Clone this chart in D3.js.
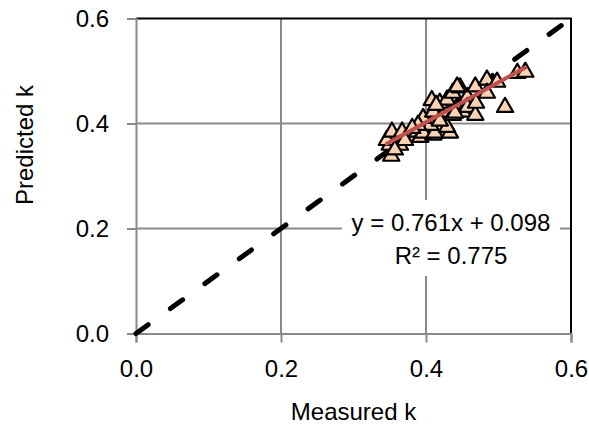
<!DOCTYPE html>
<html>
<head>
<meta charset="utf-8">
<script src="https://cdn.jsdelivr.net/npm/d3@7"></script>
<style>
  body { margin: 0; background: #fff; }
  svg text { font-family: "Liberation Sans", Arial, sans-serif; fill: #000; }
</style>
</head>
<body>
<svg id="chart" width="589" height="425"></svg>
<script>
// measured / predicted k
var measured = [0.352, 0.350, 0.346, 0.353, 0.367, 0.364, 0.378, 0.388, 0.392, 0.401,
                0.410, 0.396, 0.412, 0.433, 0.429, 0.406, 0.396, 0.410, 0.426, 0.437,
                0.451, 0.408, 0.419, 0.429, 0.414, 0.437, 0.447, 0.457, 0.457, 0.468,
                0.468, 0.484, 0.498, 0.484, 0.509, 0.526, 0.537, 0.443, 0.440, 0.389,
                0.419, 0.381, 0.371, 0.357, 0.469];
var predicted = [0.338, 0.359, 0.368, 0.384, 0.384, 0.359, 0.376, 0.384, 0.374, 0.384,
                 0.378, 0.382, 0.382, 0.382, 0.393, 0.397, 0.410, 0.422, 0.422, 0.416,
                 0.422, 0.444, 0.439, 0.445, 0.435, 0.458, 0.468, 0.450, 0.431, 0.416,
                 0.470, 0.483, 0.479, 0.458, 0.431, 0.496, 0.498, 0.470, 0.420, 0.397,
                 0.405, 0.391, 0.368, 0.350, 0.439];
var ticks = [0, 0.2, 0.4, 0.6];
var oneToOne = [0, 0.6];
var slope = 0.761, intercept = 0.098;
var eqLines = ["y = 0.761x + 0.098", "R\u00b2 = 0.775"];

(function () {
var svg = d3.select("#chart");
var pl = 136, pr = 571, pt = 18.5, pb = 333.5;
var fontSize = "24px";

var x = d3.scaleLinear().domain([0, 0.6]).range([pl, pr]);
var y = d3.scaleLinear().domain([0, 0.6]).range([pb, pt]);

// grid
var grid = svg.append("g");
grid.selectAll(".gx").data(ticks.slice(1, 3)).enter().append("line")
    .attr("x1", function (d) { return x(d); }).attr("x2", function (d) { return x(d); })
    .attr("y1", pt).attr("y2", pb)
    .attr("stroke", "#8a8a8a").attr("stroke-width", 2);
grid.selectAll(".gy").data(ticks.slice(1, 3)).enter().append("line")
    .attr("y1", function (d) { return y(d); }).attr("y2", function (d) { return y(d); })
    .attr("x1", pl).attr("x2", pr)
    .attr("stroke", "#8a8a8a").attr("stroke-width", 2);

// top / right border
svg.append("path")
    .attr("d", "M" + pl + "," + pt + "H" + pr + "V" + pb)
    .attr("fill", "none").attr("stroke", "#000").attr("stroke-width", 2);

// axes
var xAxis = svg.append("g").attr("transform", "translate(0," + pb + ")")
    .call(d3.axisBottom(x).tickValues(ticks).tickFormat(d3.format(".1f")).tickSize(9).tickPadding(17));
var yAxis = svg.append("g").attr("transform", "translate(" + pl + ",0)")
    .call(d3.axisLeft(y).tickValues(ticks).tickFormat(d3.format(".1f")).tickSize(9).tickPadding(18));
[xAxis, yAxis].forEach(function (a) {
  a.select(".domain").attr("stroke", "#8a8a8a").attr("stroke-width", 2);
  a.selectAll(".tick line").attr("stroke", "#8a8a8a").attr("stroke-width", 2);
  a.selectAll(".tick text").style("font-size", fontSize).attr("fill", "#000")
   .style("font-family", "'Liberation Sans', Arial, sans-serif");
});

// 1:1 dashed line
svg.append("line")
    .attr("x1", x(oneToOne[0])).attr("y1", y(oneToOne[0]))
    .attr("x2", x(oneToOne[1])).attr("y2", y(oneToOne[1]))
    .attr("stroke", "#000").attr("stroke-width", 5)
    .attr("stroke-linecap", "round").attr("stroke-dasharray", "15 27.5");

// points
var tri = d3.symbol().type(d3.symbolTriangle).size(115);
svg.append("g").selectAll("path").data(measured).enter().append("path")
    .attr("d", tri)
    .attr("transform", function (d, i) { return "translate(" + x(d) + "," + y(predicted[i]) + ")"; })
    .attr("fill", "#fbd3b2").attr("stroke", "#000").attr("stroke-width", 2.2)
    .attr("stroke-linejoin", "round");

// trend line
var ext = d3.extent(measured);
svg.append("line")
    .attr("x1", x(ext[0])).attr("y1", y(slope * ext[0] + intercept))
    .attr("x2", x(ext[1])).attr("y2", y(slope * ext[1] + intercept))
    .attr("stroke", "#c0504d").attr("stroke-width", 4).attr("stroke-linecap", "round");

// equation label
svg.append("rect").attr("x", 342).attr("y", 200).attr("width", 218).attr("height", 76)
    .attr("fill", "#fff");
svg.append("g").selectAll("text").data(eqLines).enter().append("text")
    .attr("x", 451).attr("y", function (d, i) { return 231 + i * 33; })
    .attr("text-anchor", "middle").style("font-size", fontSize)
    .text(function (d) { return d; });

// axis titles
svg.append("text").attr("x", (pl + pr) / 2).attr("y", 420)
    .attr("text-anchor", "middle").style("font-size", fontSize).text("Measured k");
svg.append("text").attr("transform", "translate(33,145) rotate(-90)")
    .attr("text-anchor", "middle").style("font-size", fontSize).text("Predicted k");
})();
</script>
</body>
</html>
